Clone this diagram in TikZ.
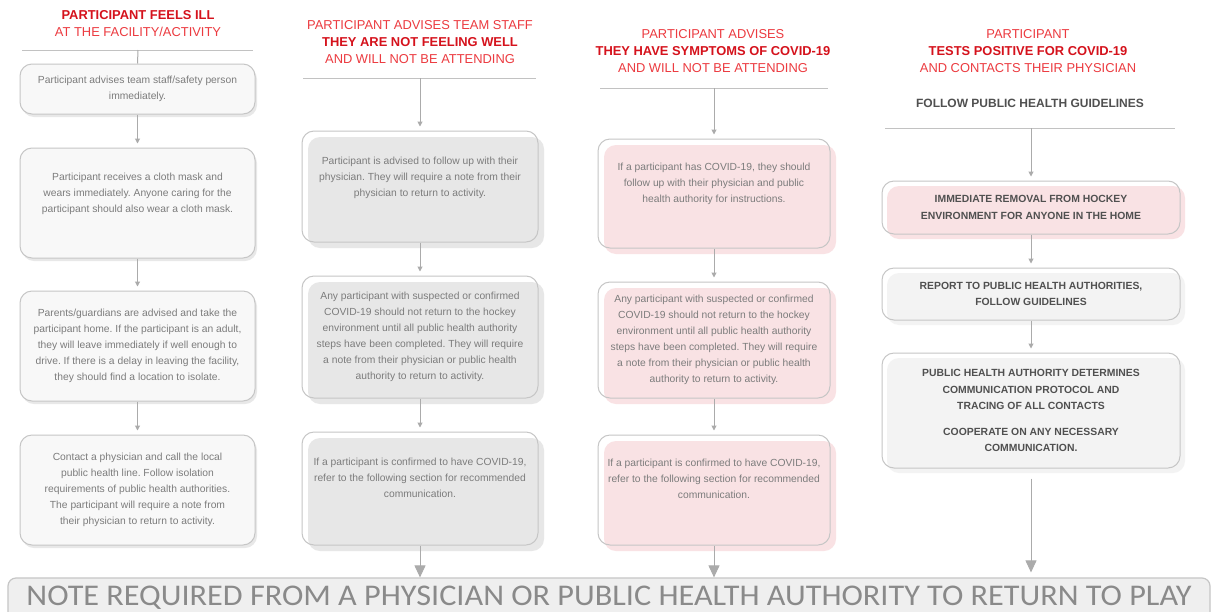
\documentclass[tikz,border=0pt]{standalone}
\usepackage{fontspec}
\setmainfont{Liberation Sans}
\newfontfamily\barfont{Carlito}
\usetikzlibrary{shadows,arrows.meta}
\frenchspacing
\definecolor{hdrred}{HTML}{EC3B40}
\definecolor{hdrdark}{HTML}{D5121C}
\definecolor{txtgray}{HTML}{7C7C7C}
\definecolor{darktxt}{HTML}{505050}
\definecolor{linegray}{HTML}{C2C2C2}
\definecolor{boxline}{HTML}{C6C6C6}
\definecolor{grayfill}{HTML}{E7E7E7}
\definecolor{pinkfill}{HTML}{F9E2E4}
\definecolor{lightfill}{HTML}{F8F8F8}
\definecolor{softfill}{HTML}{F3F3F3}
\definecolor{barfill}{HTML}{EFEFEF}
\definecolor{bartxt}{HTML}{8A8A8A}
\definecolor{conn}{HTML}{ABABAB}
\tikzset{
  basebox/.style={draw=boxline, line width=1pt, rounded corners=12pt, inner sep=0pt,
    align=center, text=txtgray, font=\fontsize{10.3}{16}\selectfont},
  lightbox/.style={basebox, fill=lightfill, minimum width=235pt,
    general shadow={fill=black!9, shadow xshift=2pt, shadow yshift=-3pt}},
  graybox/.style={basebox, minimum width=236pt,
    general shadow={fill=grayfill, shadow xshift=6pt, shadow yshift=-6pt}},
  pinkbox/.style={basebox, minimum width=232pt,
    general shadow={fill=pinkfill, shadow xshift=6pt, shadow yshift=-6pt}},
  posbox/.style={basebox, minimum width=298pt, text=darktxt,
    font=\bfseries\fontsize{10.4}{16.5}\selectfont},
  posbox pink/.style={posbox, general shadow={fill=pinkfill, shadow xshift=5pt, shadow yshift=-5pt}},
  posbox gray/.style={posbox, general shadow={fill=softfill, shadow xshift=5pt, shadow yshift=-5pt}},
  hdr/.style={align=center, text=hdrred, font=\fontsize{12.9}{17}\selectfont, inner sep=0pt},
  hdrline/.style={draw=linegray, line width=1pt},
  conline/.style={draw=conn, line width=1pt},
  smallarrow/.style={conline, -{Triangle[width=5pt,length=5pt]}, shorten >=4pt},
  bigarrow/.style={conline, -{Triangle[width=11pt,length=12pt]}},
}
\newcommand{\hb}[1]{{\bfseries\color{hdrdark}#1}}
\begin{document}
\begin{tikzpicture}[x=1pt,y=-1pt]
\useasboundingbox (0,0) rectangle (1213,611);
\fill[white] (0,0) rectangle (1213,611);

% ---------- bottom bar ----------
\node[draw=boxline, line width=1.2pt, fill=barfill, rounded corners=8pt,
  minimum width=1202pt, minimum height=64pt, inner sep=0pt] (bar) at (609,610) {};
\node[text=bartxt, inner sep=0pt, anchor=base] (bartext) at (609,605)
  {\resizebox{1165pt}{19.5pt}{\barfont NOTE REQUIRED FROM A PHYSICIAN OR PUBLIC HEALTH AUTHORITY TO RETURN TO PLAY}};

% ---------- column 1 ----------
\node[hdr] (h1t) at (138,24) {\hb{PARTICIPANT FEELS ILL}\\AT THE FACILITY/ACTIVITY};
\draw[hdrline] (22,50) -- (253,50);
\coordinate (h1) at (138,50);
\node[lightbox, minimum height=50pt] (a1) at (137.5,89)
  {Participant advises team staff/safety person\\immediately.};
\node[lightbox, minimum height=110pt] (a2) at (137.5,203)
  {Participant receives a cloth mask and\\wears immediately. Anyone caring for the\\participant should also wear a cloth mask.\\[4pt]};
\node[lightbox, minimum height=110pt] (a3) at (137.5,346)
  {Parents/guardians are advised and take the\\participant home. If the participant is an adult,\\they will leave immediately if well enough to\\drive. If there is a delay in leaving the facility,\\they should find a location to isolate.};
\node[lightbox, minimum height=110pt] (a4) at (137.5,490)
  {Contact a physician and call the local\\public health line. Follow isolation\\requirements of public health authorities.\\The participant will require a note from\\their physician to return to activity.};
\draw[conline] (h1) -- (a1.north);
\draw[smallarrow] (a1) -- (a2);
\draw[smallarrow] (a2) -- (a3);
\draw[smallarrow] (a3) -- (a4);

% ---------- column 2 ----------
\node[hdr] (h2t) at (420,42) {PARTICIPANT ADVISES TEAM STAFF\\\hb{THEY ARE NOT FEELING WELL}\\AND WILL NOT BE ATTENDING};
\draw[hdrline] (303,78) -- (536,78);
\coordinate (h2) at (420,78);
\node[graybox, minimum height=111pt] (b1) at (420,186.5)
  {Participant is advised to follow up with their\\physician. They will require a note from their\\physician to return to activity.\\[4pt]};
\node[graybox, minimum height=122pt] (b2) at (420,337)
  {Any participant with suspected or confirmed\\COVID-19 should not return to the hockey\\environment until all public health authority\\steps have been completed. They will require\\a note from their physician or public health\\authority to return to activity.};
\node[graybox, minimum height=113pt] (b3) at (420,488.5)
  {If a participant is confirmed to have COVID-19,\\refer to the following section for recommended\\communication.\\[6pt]};
\draw[smallarrow] (h2) -- (b1.north);
\draw[smallarrow] (b1) -- (b2);
\draw[smallarrow] (b2) -- (b3);
\draw[bigarrow] (b3.south) -- (b3.south |- bar.north);

% ---------- column 3 ----------
\node[hdr] (h3t) at (713,51.5) {PARTICIPANT ADVISES\\\hb{THEY HAVE SYMPTOMS OF COVID-19}\\AND WILL NOT BE ATTENDING};
\draw[hdrline] (600,88) -- (828,88);
\coordinate (h3) at (714,88);
\node[pinkbox, minimum height=109pt] (c1) at (714,193.5)
  {If a participant has COVID-19, they should\\follow up with their physician and public\\health authority for instructions.\\[6pt]};
\node[pinkbox, minimum height=116pt] (c2) at (714,340)
  {Any participant with suspected or confirmed\\COVID-19 should not return to the hockey\\environment until all public health authority\\steps have been completed. They will require\\a note from their physician or public health\\authority to return to activity.};
\node[pinkbox, minimum height=110pt] (c3) at (714,490)
  {If a participant is confirmed to have COVID-19,\\refer to the following section for recommended\\communication.\\[6pt]};
\draw[smallarrow] (h3) -- (c1.north);
\draw[smallarrow] (c1) -- (c2);
\draw[smallarrow] (c2) -- (c3);
\draw[bigarrow] (c3.south) -- (c3.south |- bar.north);

% ---------- column 4 ----------
\node[hdr] (h4t) at (1028,51) {PARTICIPANT\\\hb{TESTS POSITIVE FOR COVID-19}\\AND CONTACTS THEIR PHYSICIAN};
\node[inner sep=0pt, text=darktxt, font=\bfseries\fontsize{12}{14}\selectfont] (follow) at (1030,103) {FOLLOW PUBLIC HEALTH GUIDELINES};
\draw[hdrline] (885,128) -- (1175,128);
\coordinate (h4) at (1031,128);
\node[posbox pink, minimum height=53pt] (d1) at (1031,207.5)
  {IMMEDIATE REMOVAL FROM HOCKEY\\ENVIRONMENT FOR ANYONE IN THE HOME};
\node[posbox gray, minimum height=52pt] (d2) at (1031,294)
  {REPORT TO PUBLIC HEALTH AUTHORITIES,\\FOLLOW GUIDELINES};
\node[posbox gray, minimum height=115pt] (d3) at (1031,410.5)
  {PUBLIC HEALTH AUTHORITY DETERMINES\\COMMUNICATION PROTOCOL AND\\TRACING OF ALL CONTACTS\\[9pt]COOPERATE ON ANY NECESSARY\\COMMUNICATION.};
\draw[smallarrow] (h4) -- (d1.north);
\draw[smallarrow] (d1) -- (d2);
\draw[smallarrow] (d2) -- (d3);
\draw[bigarrow, shorten <=10pt, shorten >=5pt] (d3.south) -- (d3.south |- bar.north);
\end{tikzpicture}
\end{document}
